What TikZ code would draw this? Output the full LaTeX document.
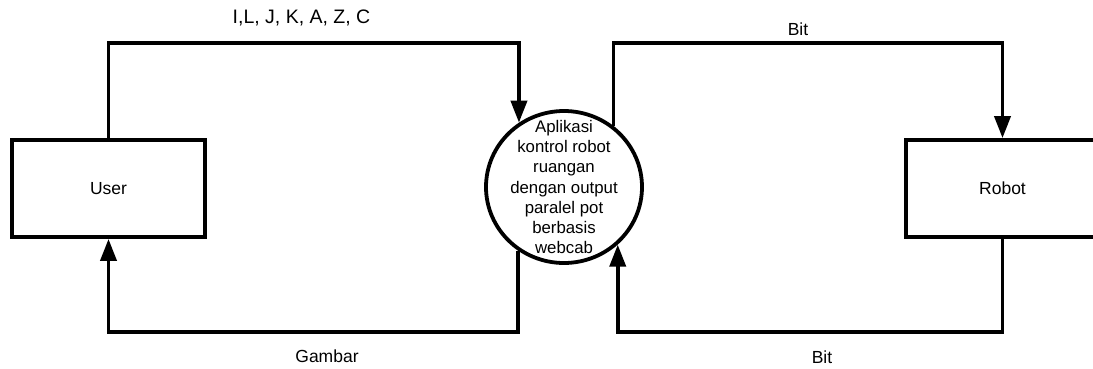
\documentclass[tikz,border=0pt]{standalone}
\usepackage{fontspec}
\setmainfont{Liberation Sans}
\usetikzlibrary{arrows.meta,shapes.geometric}
\begin{document}
\begin{tikzpicture}[x=1pt,y=-1pt,
  flow/.style={line width=3.8pt,-{Triangle[length=22pt,width=16pt]}},
  entity/.style={draw,line width=3.8pt,minimum width=193pt,minimum height=97pt,inner sep=0pt,font=\fontsize{17.5}{20}\selectfont},
  process/.style={draw,line width=3.8pt,ellipse,minimum width=156pt,minimum height=152pt,inner sep=0pt},
  proctext/.style={inner sep=0pt,align=center,font=\fontsize{16.8}{20.3}\selectfont},
  lbl/.style={font=\fontsize{17.5}{20}\selectfont}]
\useasboundingbox (0,0) rectangle (1093,368);
\clip (0,0) rectangle (1093,368);
\node[entity] (user) at (108.5,188.5) {User};
\node[entity] (robot) at (1002.5,188.5) {Robot};
\node[process] (app) at (564,187) {};
\node[proctext] (apptext) at (app.center) {Aplikasi\\kontrol robot\\ruangan\\dengan output\\paralel pot\\berbasis\\webcab};
\coordinate (tl) at (108.5,43);
\coordinate (bl) at (108.5,332);
\coordinate (tr) at (1002.5,43);
\coordinate (br) at (1002.5,332);
\draw[flow] (user.north) -- (tl) -| (app.125.5);
\draw[flow] (app.234.5) |- (bl) -- (user.south);
\draw[flow] (app.51) |- (tr) -- (robot.north);
\draw[flow] (robot.south) -- (br) -| (app.313);
\node[font=\fontsize{19.5}{20}\selectfont] (t1) at (301.5,18) {I,L, J, K, A, Z, C};
\node[lbl] (t2) at (327,356) {Gambar};
\node[lbl] (t3) at (798,29) {Bit};
\node[lbl] (t4) at (822,357) {Bit};
\end{tikzpicture}
\end{document}
